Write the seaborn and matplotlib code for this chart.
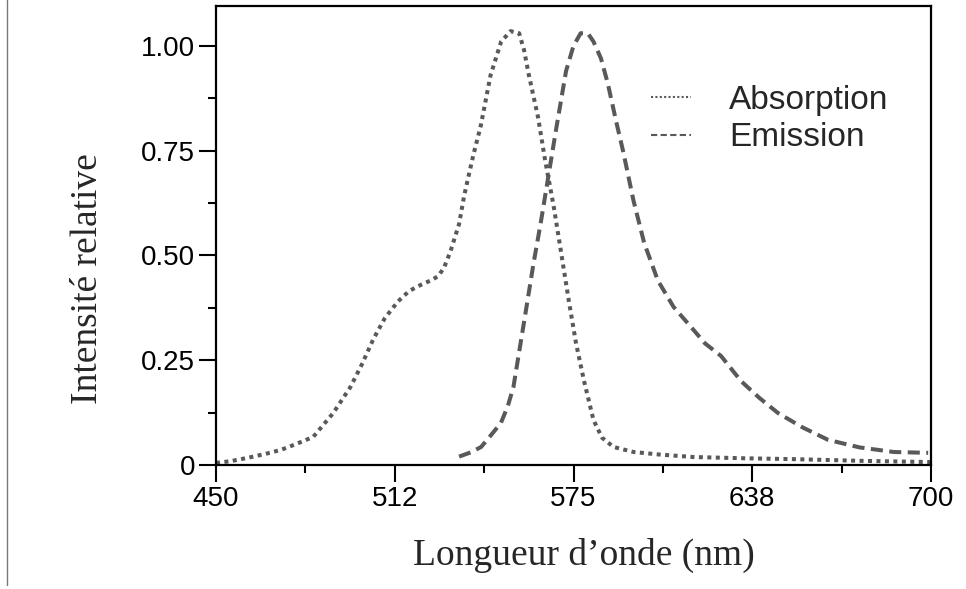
import matplotlib
matplotlib.use("Agg")
import matplotlib.pyplot as plt
from matplotlib.lines import Line2D
from matplotlib.ticker import FixedLocator
import numpy as np
import seaborn as sns
import pandas as pd

# absorption spectrum (nm, relative intensity)
abs_nm = [450, 455, 461, 467, 472.7, 478, 484, 491, 497, 501, 505, 509, 513.6,
          517.5, 521.7, 525, 527.6, 529.7, 532, 535, 536.7, 538, 540, 542.6,
          546, 549.7, 553, 556, 557.7, 559.4, 562.6, 565, 568, 570.6, 573.4,
          575.9, 578.7, 582, 585, 589, 596, 605, 617, 635, 652, 675, 700]
abs_val = [0.005, 0.009, 0.017, 0.026, 0.036, 0.05, 0.067, 0.124, 0.186, 0.24,
           0.30, 0.35, 0.39, 0.415, 0.43, 0.44, 0.45, 0.47, 0.51, 0.575, 0.64,
           0.68, 0.74, 0.81, 0.93, 1.01, 1.035, 1.03, 0.99, 0.93, 0.83, 0.73,
           0.62, 0.51, 0.39, 0.29, 0.20, 0.107, 0.065, 0.043, 0.031, 0.025,
           0.019, 0.016, 0.014, 0.010, 0.007]

# emission spectrum
em_nm = [535, 539, 542.7, 546, 549.6, 552, 554, 556, 558.4, 561, 563.6, 566,
         568.9, 572.4, 575, 577.5, 580, 582, 584.6, 587, 589.9, 592.3, 596,
         599.7, 604.5, 610, 616, 621, 626.6, 633.6, 640, 646.5, 655, 664, 675,
         687, 699]
em_val = [0.02, 0.03, 0.043, 0.07, 0.10, 0.14, 0.186, 0.27, 0.37, 0.48, 0.58,
          0.68, 0.80, 0.94, 1.00, 1.03, 1.03, 1.01, 0.97, 0.91, 0.82, 0.75, 0.63,
          0.53, 0.44, 0.377, 0.33, 0.29, 0.26, 0.20, 0.16, 0.124, 0.09, 0.06,
          0.042, 0.031, 0.029]

x_ticks = [450, 512.5, 575, 637.5, 700]
x_ticklabels = ["450", "512", "575", "638", "700"]
y_ticks = [0, 0.25, 0.5, 0.75, 1.0]
y_ticklabels = ["0", "0.25", "0.50", "0.75", "1.00"]

df = pd.concat([
    pd.DataFrame({"nm": abs_nm, "val": abs_val, "serie": "Absorption"}),
    pd.DataFrame({"nm": em_nm, "val": em_val, "serie": "Emission"}),
])

sns.set_theme(style="ticks")
plt.rcParams["font.family"] = ["Liberation Sans", "DejaVu Sans"]

fig = plt.figure(figsize=(9.66, 5.89), dpi=100)
ax = fig.add_axes([216/966, 1-465/589, 715/966, 459/589])

sns.lineplot(data=df, x="nm", y="val", style="serie", ax=ax, color="#595959",
             lw=2.9, sort=False,
             dashes={"Absorption": (1, 1.1), "Emission": (3, 1.6)})

ax.set_xlim(450, 700)
ax.set_ylim(0, 1.095)
ax.set_xticks(x_ticks)
ax.set_xticklabels(x_ticklabels)
ax.set_yticks(y_ticks)
ax.set_yticklabels(y_ticklabels)
ax.xaxis.set_minor_locator(FixedLocator([481.25, 543.75, 606.25, 668.75]))
ax.yaxis.set_minor_locator(FixedLocator([0.125, 0.375, 0.625, 0.875]))
ax.tick_params(which="major", length=12, width=1.5, direction="out",
               labelsize=20, pad=3, color="black", labelcolor="black")
ax.tick_params(which="minor", length=6, width=1.5, direction="out", color="black")
for s in ax.spines.values():
    s.set_linewidth(1.6)
    s.set_color("black")

serif = ["Liberation Serif", "DejaVu Serif"]
ax.set_xlabel("Longueur d\u2019onde (nm)", fontsize=27, family=serif, va="center")
ax.set_ylabel("Intensité relative", fontsize=27, family=serif, va="center")
ax.xaxis.set_label_coords(0.514, -0.196)
ax.yaxis.set_label_coords(-0.179, 0.407)

leg = ax.legend(frameon=False, fontsize=24, handlelength=1.2, handletextpad=1.15,
                labelspacing=0.2, loc="center left",
                bbox_to_anchor=(0.566, 0.754))
for ln in leg.get_lines():
    ln.set_linewidth(1.5)

fig.add_artist(Line2D([7/966, 7/966], [4/589, 1], transform=fig.transFigure,
                      color="#777777", lw=1))

fig.savefig("out.png", dpi=100)
